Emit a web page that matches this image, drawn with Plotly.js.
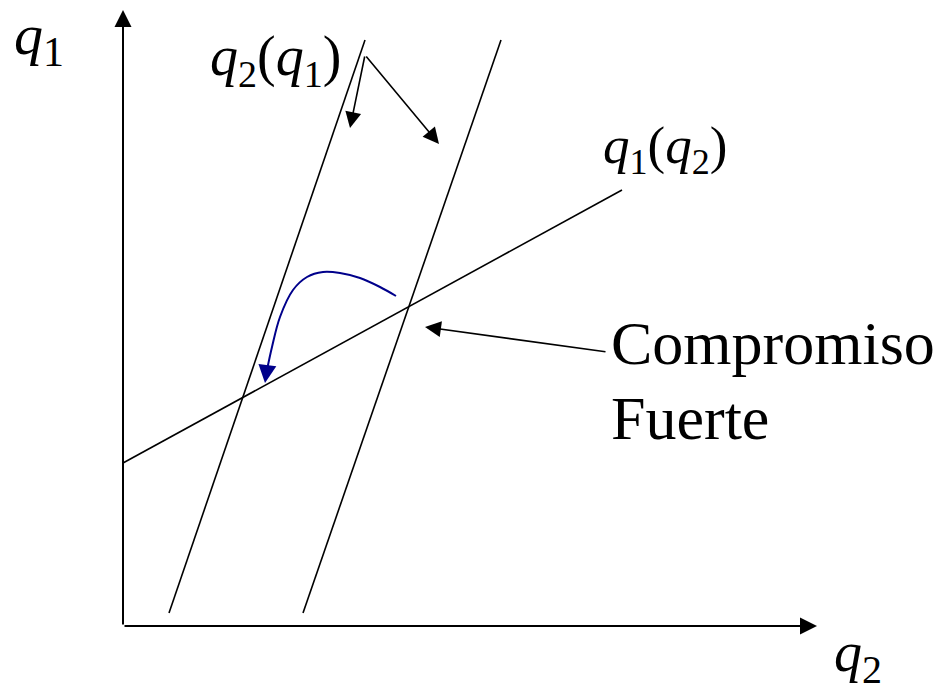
<!DOCTYPE html>
<html>
<head>
<meta charset="utf-8">
<script src="https://cdn.plot.ly/plotly-3.0.1.min.js"></script>
<style>html,body{margin:0;padding:0;background:#fff;}#chart{width:945px;height:694px;}</style>
</head>
<body>
<div id="chart"></div>
<script>
// Diagram coordinates: origin at the axes corner, units = pixels
// Reaction curve q2(q1), low position
var lineLowX = [46, 242];
var lineLowY = [13, 586];
// Reaction curve q2(q1), shifted (strong commitment)
var lineHighX = [180, 378];
var lineHighY = [13, 586];
// Reaction curve q1(q2)
var lineQ1X = [0, 499];
var lineQ1Y = [163, 436];
// Blue adjustment path
var pathX = [273, 257, 237, 217, 200, 184, 170, 157, 149, 144];
var pathY = [330, 339, 348, 353, 354, 349, 336, 309, 279, 256];
// Axis extents
var axisXEnd = 694;
var axisYEnd = 616;

var blackLine = {color: '#000', width: 1.6};
var traces = [
  {x: lineLowX, y: lineLowY, mode: 'lines', line: blackLine, hoverinfo: 'skip'},
  {x: lineHighX, y: lineHighY, mode: 'lines', line: blackLine, hoverinfo: 'skip'},
  {x: lineQ1X, y: lineQ1Y, mode: 'lines', line: blackLine, hoverinfo: 'skip'},
  {x: pathX, y: pathY, mode: 'lines', line: {color: '#00008b', width: 2, shape: 'spline'}, hoverinfo: 'skip'}
];

var font = 'Liberation Serif, Times New Roman, serif';
function arrow(x, y, ax, ay, color, width, size) {
  return {x: x, y: y, ax: ax, ay: ay, xref: 'x', yref: 'y', axref: 'x', ayref: 'y',
    text: '', showarrow: true, arrowhead: 2, arrowsize: size, arrowwidth: width, arrowcolor: color, standoff: 0, startstandoff: 0};
}
function label(x, y, text, size, xanchor) {
  return {x: x, y: y, xref: 'x', yref: 'y', text: text, showarrow: false,
    xanchor: xanchor || 'center', yanchor: 'middle', font: {family: font, size: size, color: '#000'}};
}
function sub(t, px) {
  return '<sub><span style="font-size:' + px + 'px">' + t + '</span></sub>';
}

var annotations = [
  arrow(0, axisYEnd, 0, 0, '#000', 2, 1.7),
  arrow(axisXEnd, 0, 0, 0, '#000', 2, 1.7),
  arrow(227, 498, 242, 571, '#000', 1.6, 2),
  arrow(316, 482, 242, 571, '#000', 1.6, 2),
  arrow(302, 299, 484, 274, '#000', 1.6, 2),
  arrow(142, 243, 144, 258, '#00008b', 2, 1.8),
  label(-84, 588, '<i>q</i>' + sub('1', 42), 58),
  label(152, 566, '<i>q</i>' + sub('2', 38) + '(<i>q</i>' + sub('1', 38) + ')', 56),
  label(542, 477, '<i>q</i>' + sub('1', 36) + '(<i>q</i>' + sub('2', 36) + ')', 53),
  label(735, -30, '<i>q</i>' + sub('2', 40), 56),
  label(486, 283, 'Compromiso', 62, 'left'),
  label(486, 208, 'Fuerte', 62, 'left')
];

var layout = {
  width: 945, height: 694,
  margin: {l: 0, r: 0, t: 0, b: 0},
  paper_bgcolor: '#fff', plot_bgcolor: '#fff',
  showlegend: false,
  xaxis: {range: [-123, 822], visible: false, fixedrange: true},
  yaxis: {range: [-68, 626], visible: false, fixedrange: true},
  annotations: annotations
};
Plotly.newPlot('chart', traces, layout, {staticPlot: true, displayModeBar: false});
</script>
</body>
</html>
